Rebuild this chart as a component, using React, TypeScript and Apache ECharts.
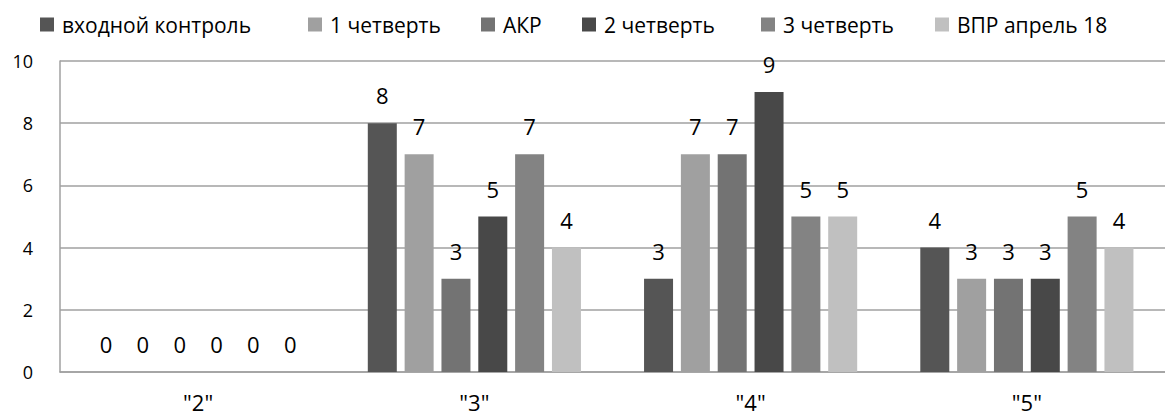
import React, { useEffect, useRef } from "react";
import * as echarts from "echarts";

const categories = ['"2"', '"3"', '"4"', '"5"'];
const seriesNames = ["входной контроль", "1 четверть", "АКР", "2 четверть", "3 четверть", "ВПР апрель 18"];
const vhodnoy = [0, 8, 3, 4];
const chetvert1 = [0, 7, 7, 3];
const akr = [0, 3, 7, 3];
const chetvert2 = [0, 5, 9, 3];
const chetvert3 = [0, 7, 5, 5];
const vpr = [0, 4, 5, 4];
const seriesValues = [vhodnoy, chetvert1, akr, chetvert2, chetvert3, vpr];
const colors = ["#555555", "#a0a0a0", "#737373", "#484848", "#838383", "#c0c0c0"];
const yTicks = [0, 2, 4, 6, 8, 10];

// legend item left positions (layout only)
const legendLefts = [40, 308, 481, 582, 761, 935];

const FONT = "'Open Sans', 'Noto Sans', sans-serif";

export default function App() {
  const ref = useRef<HTMLDivElement>(null);
  useEffect(() => {
    if (!ref.current) return;
    const chart = echarts.init(ref.current, undefined, { renderer: "svg" });
    chart.setOption({
      animation: false,
      textStyle: { fontFamily: FONT },
      legend: seriesNames.map((name, i) => ({
        top: 14,
        left: legendLefts[i],
        itemWidth: 14,
        itemHeight: 14,
        icon: "rect",
        padding: 0,
        textStyle: { fontSize: 21, color: "#000", fontFamily: FONT, padding: [0, 0, 0, 3] },
        data: [name],
      })),
      grid: { left: 60, top: 61, width: 1112, height: 311, containLabel: false },
      xAxis: {
        type: "category",
        data: categories,
        axisLine: { lineStyle: { color: "#a0a0a0", width: 1.5 } },
        axisTick: { show: false },
        axisLabel: { fontSize: 22, color: "#000", margin: 19, fontFamily: FONT },
        splitLine: { show: false },
      },
      yAxis: {
        type: "value",
        min: yTicks[0],
        max: yTicks[yTicks.length - 1],
        interval: 2,
        axisLine: { show: true, lineStyle: { color: "#a0a0a0", width: 1.5 } },
        axisTick: { show: false },
        axisLabel: { fontSize: 18, color: "#000", margin: 27, fontFamily: FONT },
        splitLine: { lineStyle: { color: "#a0a0a0", width: 1.5 } },
      },
      series: seriesNames.map((name, i) => ({
        name,
        type: "bar",
        data: seriesValues[i],
        barWidth: 29,
        barGap: "27%",
        itemStyle: { color: colors[i] },
        label: {
          show: true,
          position: "top",
          distance: 17,
          fontSize: 22,
          color: "#000",
          fontFamily: FONT,
        },
      })),
    });
    return () => chart.dispose();
  }, []);
  return (
    <div
      ref={ref}
      style={{ position: "absolute", left: 0, top: 0, width: 1165, height: 418, background: "#fff" }}
    />
  );
}
